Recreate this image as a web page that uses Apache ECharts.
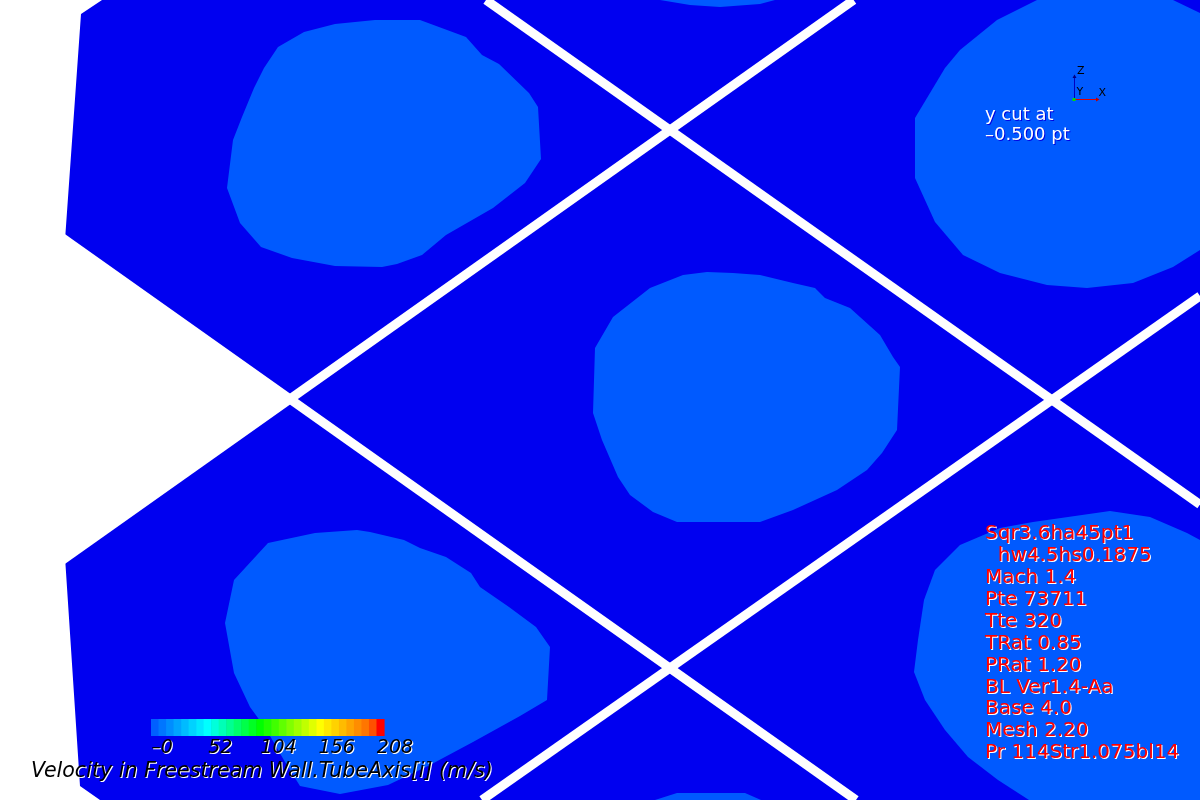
<!DOCTYPE html>
<html>
<head>
<meta charset="utf-8">
<script src="https://cdn.jsdelivr.net/npm/echarts@6/dist/echarts.min.js"></script>
<style>
html,body{margin:0;padding:0;background:#ffffff;}
#c{width:1200px;height:800px;}
</style>
</head>
<body>
<div id="c"></div>
<script>
// ---------- data (plot coordinates: x 0..1200, y 0..800 downward) ----------
const fieldOutline = [[102,0],[1200,0],[1200,800],[100,800],[80,786],[65,557],[290,399],[65,240],[81,14]];

const coreTopLeft = [[375,20],[420,20],[466,37],[482,55],[499,64],[529,93],[538,107],[541,159],[525,183],[493,208],[446,235],[422,255],[397,264],[382,267],[335,266],[292,258],[261,247],[240,223],[227,188],[233,140],[242,117],[254,88],[264,68],[278,47],[304,32],[335,24]];
const coreTopRight = [[1037,0],[1173,0],[1200,13],[1200,250],[1173,267],[1133,283],[1087,288],[1047,285],[1000,273],[963,255],[935,222],[915,178],[915,118],[945,68],[960,50],[997,20]];
const coreCenter = [[707,272],[733,273],[760,275],[793,283],[815,288],[825,298],[850,308],[880,335],[893,357],[900,367],[897,430],[882,453],[867,470],[837,490],[793,510],[760,522],[677,522],[653,512],[630,495],[618,477],[602,440],[593,413],[595,348],[613,317],[650,288],[683,275]];
const coreBottomLeft = [[357,530],[370,532],[404,540],[420,548],[446,557],[471,573],[480,587],[509,607],[536,627],[550,647],[547,700],[520,716],[473,742],[430,765],[388,785],[340,794],[300,786],[285,762],[266,729],[250,707],[234,673],[225,623],[234,580],[268,543],[315,533]];
const coreBottomRight = [[1000,528],[1033,522],[1110,511],[1150,517],[1187,533],[1200,540],[1200,800],[1029,800],[998,780],[968,757],[945,730],[925,700],[914,672],[918,640],[924,600],[935,570],[960,545]];
const coreTopMid = [[660,0],[690,5],[720,7],[760,4],[775,0]];
const coreBottomMid = [[655,800],[677,793],[745,793],[761,800]];

const gapLines = [
  [[40,576],[853.6,0]],
  [[40,222],[856,800]],
  [[486,0],[1200,504.6]],
  [[482,800],[1200,296]]
];

const colorbarColors = ['#005FFF','#0076FF','#008DFF','#00A4FF','#00BBFF','#00D2FF','#00E8FF','#00FFFF',
  '#00FFDB','#00FFB6','#00FF92','#00FF6D','#00FF49','#00FF24','#00FF00',
  '#20FF00','#40FF00','#60FF00','#80FF00','#A0FF00','#C0FF00','#E0FF00','#FFFF00',
  '#FFE800','#FFD200','#FFBB00','#FFA400','#FF8D00','#FF7600','#FF5000','#FF0000'];
const colorbarMin = 0;
const colorbarMax = 208;
const colorbarTicks = [0, 52, 104, 156, 208];
const colorbarTickLabels = ['–0', '52', '104', '156', '208'];
const colorbarTitle = 'Velocity in Freestream Wall.TubeAxis[i] (m/s)';

const infoLines = ['Sqr3.6ha45pt1','  hw4.5hs0.1875','Mach 1.4','Pte 73711','Tte 320','TRat 0.85','PRat 1.20','BL Ver1.4-Aa','Base 4.0','Mesh 2.20','Pr 114Str1.075bl14'];
const cutLines = ['y cut at', '–0.500 pt'];
const triadLabels = ['Z', 'Y', 'X'];

// ---------- chart ----------
const DARK = '#0000F0';
const LIGHT = '#005AFF';
const FONT = '"DejaVu Sans", "Noto Sans", sans-serif';

const fieldShapes = [fieldOutline];
const coreShapes = [coreTopLeft, coreTopRight, coreCenter, coreBottomLeft, coreBottomRight, coreTopMid, coreBottomMid];

function polygonSeries(shapes, color, z) {
  return {
    type: 'custom', coordinateSystem: 'cartesian2d', xAxisIndex: 0, yAxisIndex: 0,
    silent: true, z: z, clip: true,
    data: shapes.map((s, i) => [i, 0]),
    renderItem: function (params, api) {
      const pts = shapes[params.dataIndex].map(p => api.coord(p));
      return { type: 'polygon', shape: { points: pts }, style: { fill: color } };
    }
  };
}

function shadowText(text, x, y, opt) {
  const base = {
    font: opt.font, textAlign: opt.align || 'left', textVerticalAlign: 'middle'
  };
  return [
    { type: 'text', z: 100, silent: true, style: Object.assign({}, base, { text: text, x: x + (opt.sx || 1), y: y + (opt.sy || 1), fill: opt.shadow }) },
    { type: 'text', z: 101, silent: true, style: Object.assign({}, base, { text: text, x: x, y: y, fill: opt.fill }) }
  ];
}

const graphics = [];
infoLines.forEach((t, i) => {
  graphics.push(...shadowText(t, 985, 534 + i * 21.9, { font: '20px ' + FONT, fill: '#FF0000', shadow: '#FFFFFF' }));
});
cutLines.forEach((t, i) => {
  graphics.push(...shadowText(t, 985, 115 + i * 20.5, { font: '18px ' + FONT, fill: '#FFFFFF', shadow: '#0000E0' }));
});
graphics.push(...shadowText(colorbarTitle, 31, 771.5, { font: 'italic 20.6px ' + FONT, fill: '#000000', shadow: '#FFFFFF' }));
// axis triad
graphics.push({ type: 'line', z: 100, silent: true, shape: { x1: 1074.5, y1: 99.5, x2: 1074.5, y2: 77 }, style: { stroke: '#0000C0', lineWidth: 1 } });
graphics.push({ type: 'polygon', z: 100, silent: true, shape: { points: [[1072.5, 78], [1076.5, 78], [1074.5, 74.5]] }, style: { fill: '#000080' } });
graphics.push({ type: 'line', z: 100, silent: true, shape: { x1: 1074.5, y1: 99.5, x2: 1097, y2: 99.5 }, style: { stroke: '#E00000', lineWidth: 1 } });
graphics.push({ type: 'polygon', z: 100, silent: true, shape: { points: [[1096, 97.5], [1096, 101.5], [1099.5, 99.5]] }, style: { fill: '#C00000' } });
graphics.push({ type: 'rect', z: 101, silent: true, shape: { x: 1072.5, y: 98, width: 3, height: 3 }, style: { fill: '#00E000' } });
graphics.push({ type: 'text', z: 101, silent: true, style: { text: triadLabels[0], x: 1077, y: 71, font: '11px ' + FONT, fill: '#000000', textVerticalAlign: 'middle' } });
graphics.push({ type: 'text', z: 101, silent: true, style: { text: triadLabels[1], x: 1076.5, y: 92.5, font: '11px ' + FONT, fill: '#000000', textVerticalAlign: 'middle' } });
graphics.push({ type: 'text', z: 101, silent: true, style: { text: triadLabels[2], x: 1098.5, y: 93, font: '11px ' + FONT, fill: '#000000', textVerticalAlign: 'middle' } });

const option = {
  animation: false,
  backgroundColor: '#FFFFFF',
  grid: [
    { left: 0, right: 0, top: 0, bottom: 0, containLabel: false },
    { left: 151, top: 719, width: 233, height: 17, containLabel: false }
  ],
  xAxis: [
    { gridIndex: 0, type: 'value', min: 0, max: 1200, show: false },
    { gridIndex: 1, type: 'value', min: colorbarMin, max: colorbarMax, interval: 52, show: false }
  ],
  yAxis: [
    { gridIndex: 0, type: 'value', min: 0, max: 800, inverse: true, show: false },
    { gridIndex: 1, type: 'value', min: 0, max: 1, show: false }
  ],
  series: [
    polygonSeries(fieldShapes, DARK, 1),
    polygonSeries(coreShapes, LIGHT, 2),
    {
      type: 'custom', coordinateSystem: 'cartesian2d', xAxisIndex: 0, yAxisIndex: 0,
      silent: true, z: 3, clip: true,
      data: gapLines.map((s, i) => [i, 0]),
      renderItem: function (params, api) {
        const seg = gapLines[params.dataIndex];
        const a = api.coord(seg[0]), b = api.coord(seg[1]);
        return { type: 'line', shape: { x1: a[0], y1: a[1], x2: b[0], y2: b[1] }, style: { stroke: '#FFFFFF', lineWidth: 9, lineCap: 'butt' } };
      }
    },
    {
      type: 'custom', coordinateSystem: 'cartesian2d', xAxisIndex: 1, yAxisIndex: 1,
      silent: true, z: 10, clip: false,
      data: colorbarColors.map((c, i) => [i, 0]),
      renderItem: function (params, api) {
        const n = colorbarColors.length, i = params.dataIndex;
        const lo = colorbarMin + (colorbarMax - colorbarMin) * i / n;
        const hi = colorbarMin + (colorbarMax - colorbarMin) * (i + 1) / n;
        const p0 = api.coord([lo, 1]), p1 = api.coord([hi, 0]);
        return { type: 'rect', shape: { x: p0[0], y: p0[1], width: p1[0] - p0[0] + 0.6, height: p1[1] - p0[1] }, style: { fill: colorbarColors[i] } };
      }
    },
    {
      type: 'custom', coordinateSystem: 'cartesian2d', xAxisIndex: 1, yAxisIndex: 1,
      silent: true, z: 11, clip: false,
      data: colorbarTicks.map(v => [v, 0]),
      renderItem: function (params, api) {
        const p = api.coord([api.value(0), 0]);
        const txt = colorbarTickLabels[params.dataIndex];
        const st = { text: txt, font: 'italic 19px ' + FONT, textAlign: 'center', textVerticalAlign: 'middle' };
        return {
          type: 'group',
          children: [
            { type: 'text', style: Object.assign({}, st, { x: p[0] + 12, y: p[1] + 13.5, fill: '#FFFFFF' }) },
            { type: 'text', style: Object.assign({}, st, { x: p[0] + 11, y: p[1] + 12.5, fill: '#000000' }) }
          ]
        };
      }
    }
  ],
  graphic: { elements: graphics }
};

const chart = echarts.init(document.getElementById('c'));
chart.setOption(option);
</script>
</body>
</html>
